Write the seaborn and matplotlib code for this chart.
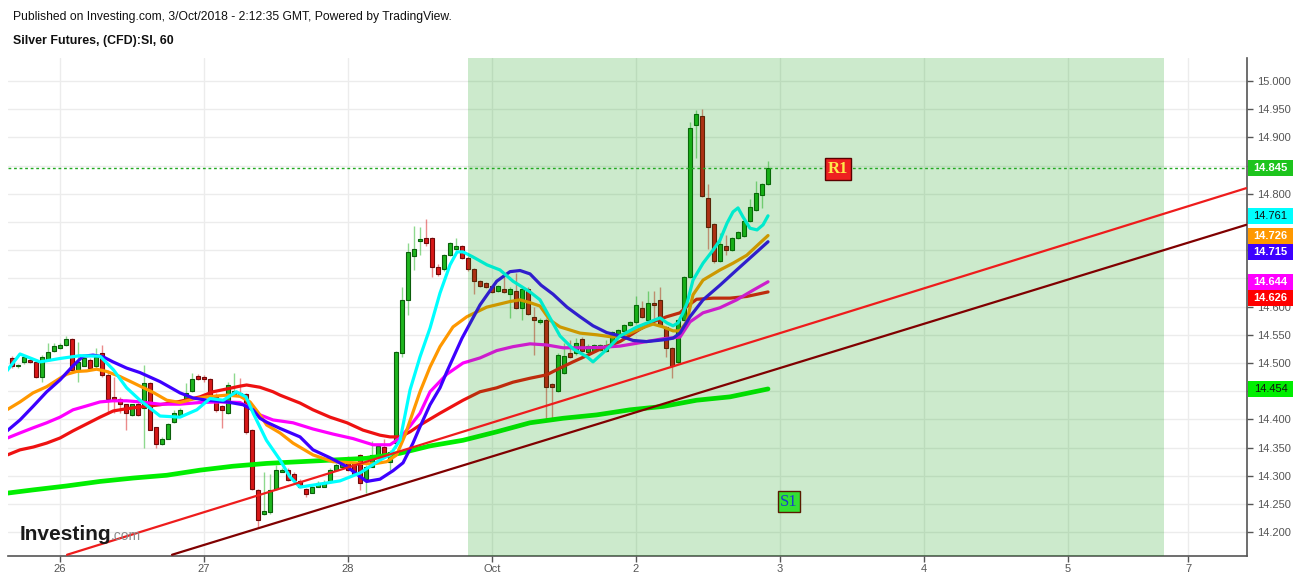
import matplotlib
matplotlib.use("Agg")
import matplotlib.pyplot as plt
import matplotlib.transforms as mtransforms
from matplotlib.patches import Rectangle
import numpy as np
import pandas as pd
import seaborn as sns

# ---------------- data ----------------
first_bar = -8  # hourly bar index, 0 = 26 Sep 00:00, 24 bars per day
opens = [14.508,14.494,14.501,14.506,14.501,14.476,14.506,14.521,14.526,14.532,
         14.542,14.488,14.495,14.506,14.495,14.517,14.479,14.440,14.437,14.427,
         14.408,14.427,14.420,14.465,14.386,14.356,14.366,14.396,14.407,14.434,
         14.451,14.477,14.476,14.472,14.440,14.423,14.411,14.445,14.447,14.445,
         14.381,14.275,14.232,14.236,14.276,14.307,14.311,14.304,14.291,14.277,
         14.270,14.281,14.281,14.290,14.311,14.316,14.322,14.322,14.336,14.294,
         14.316,14.334,14.351,14.325,14.358,14.517,14.612,14.690,14.717,14.721,
         14.721,14.671,14.666,14.691,14.702,14.707,14.687,14.666,14.646,14.641,
         14.636,14.628,14.632,14.622,14.628,14.597,14.632,14.581,14.572,14.577,
         14.463,14.451,14.482,14.517,14.517,14.542,14.520,14.522,14.523,14.522,
         14.530,14.550,14.557,14.567,14.572,14.597,14.577,14.606,14.612,14.563,
         14.526,14.501,14.576,14.652,14.922,14.938,14.792,14.746,14.681,14.707,
         14.701,14.721,14.726,14.752,14.772,14.797,14.817]
highs = [14.512,14.498,14.514,14.508,14.505,14.514,14.536,14.535,14.535,14.548,
         14.544,14.538,14.511,14.508,14.526,14.532,14.488,14.476,14.440,14.428,
         14.428,14.430,14.496,14.467,14.387,14.369,14.393,14.417,14.420,14.464,
         14.482,14.480,14.479,14.473,14.446,14.426,14.467,14.482,14.473,14.447,
         14.383,14.276,14.307,14.304,14.319,14.313,14.313,14.307,14.294,14.278,
         14.282,14.290,14.293,14.313,14.322,14.325,14.335,14.325,14.339,14.319,
         14.361,14.355,14.366,14.346,14.522,14.635,14.712,14.743,14.742,14.756,
         14.724,14.675,14.694,14.714,14.721,14.710,14.690,14.668,14.648,14.643,
         14.638,14.638,14.659,14.634,14.659,14.634,14.634,14.600,14.579,14.579,
         14.465,14.518,14.536,14.541,14.544,14.546,14.533,14.534,14.534,14.540,
         14.557,14.560,14.569,14.574,14.618,14.610,14.628,14.627,14.635,14.565,
         14.528,14.578,14.654,14.927,14.949,14.951,14.817,14.748,14.730,14.727,
         14.723,14.734,14.754,14.790,14.823,14.819,14.858]
lows = [14.492,14.492,14.499,14.500,14.473,14.467,14.504,14.520,14.525,14.531,
        14.486,14.467,14.494,14.491,14.492,14.476,14.411,14.411,14.411,14.381,
        14.406,14.406,14.349,14.381,14.349,14.355,14.365,14.393,14.405,14.431,
        14.449,14.470,14.467,14.441,14.414,14.384,14.410,14.443,14.440,14.375,
        14.275,14.207,14.231,14.233,14.275,14.306,14.290,14.291,14.280,14.263,
        14.269,14.280,14.280,14.288,14.310,14.315,14.309,14.303,14.275,14.269,
        14.315,14.333,14.334,14.310,14.350,14.510,14.585,14.665,14.692,14.708,
        14.653,14.655,14.664,14.689,14.700,14.685,14.664,14.623,14.634,14.633,
        14.624,14.626,14.624,14.579,14.595,14.577,14.585,14.514,14.570,14.399,
        14.399,14.449,14.480,14.509,14.515,14.520,14.518,14.520,14.521,14.520,
        14.528,14.548,14.555,14.565,14.570,14.579,14.575,14.577,14.565,14.511,
        14.473,14.499,14.574,14.650,14.863,14.794,14.703,14.678,14.679,14.692,
        14.699,14.719,14.724,14.750,14.770,14.774,14.815]
closes = [14.494,14.496,14.511,14.501,14.476,14.511,14.520,14.531,14.532,14.542,
          14.488,14.502,14.508,14.492,14.511,14.479,14.437,14.436,14.427,14.411,
          14.427,14.408,14.465,14.382,14.356,14.366,14.391,14.411,14.417,14.446,
          14.472,14.472,14.472,14.443,14.417,14.417,14.461,14.450,14.441,14.377,
          14.276,14.222,14.238,14.275,14.311,14.311,14.293,14.293,14.281,14.268,
          14.281,14.287,14.288,14.310,14.319,14.322,14.310,14.304,14.287,14.316,
          14.337,14.352,14.337,14.343,14.520,14.612,14.697,14.702,14.720,14.712,
          14.671,14.658,14.691,14.712,14.707,14.687,14.666,14.646,14.636,14.635,
          14.626,14.636,14.626,14.632,14.597,14.632,14.587,14.577,14.577,14.457,
          14.457,14.514,14.512,14.511,14.536,14.522,14.530,14.532,14.532,14.532,
          14.555,14.558,14.567,14.572,14.603,14.581,14.606,14.602,14.567,14.526,
          14.495,14.576,14.652,14.916,14.941,14.796,14.742,14.681,14.711,14.701,
          14.721,14.732,14.752,14.776,14.801,14.817,14.846]

# moving averages (bar index, price)
ma_cyan_x = [-9,-6.67,-3.33,0,3.33,6.67,8.9,11.1,13.33,16.67,20,22.8,25,27.2,29.4,31,32.2,34.4,36.67,
             38.33,40,42.5,46.67,50,53.33,55,56.67,58.33,60,61.67,63.33,65,66.17,67.17,68.83,71.17,
             73.33,75.5,78.33,80,81.67,83.33,85.5,87.83,88.83,90.5,92.17,93.33,96.17,98.33,100,101.17,
             102.17,103,103.83,104.5,105.5,107.17,108.83,110,111.17,112.17,113,113.83,115,116.17,117.17,118]
ma_cyan_y = [14.484,14.516,14.502,14.508,14.513,14.512,14.488,14.456,14.434,14.406,14.404,14.417,14.437,
             14.434,14.449,14.440,14.411,14.363,14.328,14.298,14.280,14.284,14.291,14.305,14.328,14.337,
             14.363,14.452,14.511,14.562,14.624,14.674,14.697,14.697,14.688,14.674,14.665,14.645,14.626,
             14.612,14.580,14.548,14.525,14.511,14.502,14.518,14.535,14.548,14.564,14.573,14.580,14.571,
             14.566,14.571,14.589,14.606,14.647,14.677,14.700,14.718,14.748,14.768,14.775,14.759,14.739,
             14.736,14.745,14.761]
ma_orange_x = [-9,-6.67,-4.5,-2.22,0,1.1,2.78,4.45,6.1,7.78,10,12.17,13.33,15.5,17.8,20,22.17,24.45,27.8,
               30,31.67,33.33,34.45,36.67,38.83,42.17,45.5,48.83,52.17,54.45,56.1,57.5,58.67,60,61.67,
               63.33,65.5,67.8,71.1,75,76.67,78.33,80,81.67,83.33,86.67,89.45,92.17,95,97.5,98.83,100.5,
               102.17,103.33,104.45,105.5,107.17,110,112.17,114.45,116.67,118]
ma_orange_y = [14.416,14.431,14.447,14.458,14.473,14.480,14.485,14.486,14.489,14.485,14.476,14.465,14.459,
               14.448,14.434,14.430,14.436,14.440,14.443,14.441,14.431,14.408,14.390,14.376,14.358,14.337,
               14.325,14.323,14.321,14.325,14.337,14.372,14.408,14.449,14.493,14.529,14.564,14.582,14.599,
               14.609,14.612,14.607,14.601,14.576,14.564,14.553,14.550,14.546,14.553,14.564,14.569,14.564,
               14.557,14.557,14.573,14.621,14.647,14.665,14.677,14.691,14.713,14.726]
ma_blue_x = [-9,-6.67,-4.5,-2.22,0,2.17,3.83,5.5,7.17,8.83,11.1,13.33,16.67,20,22.17,24.45,27.8,30.5,32.17,
             33.33,34.45,36.67,40,42.17,45,47.83,51.1,53.33,55.5,57.17,58.83,60,61.67,63.33,64.45,67,70,
             72.78,75,76.67,78.33,80.17,82.17,84.5,86.67,88.83,91.1,93.33,95.5,97.78,100.5,102.17,103.33,
             105,107.17,110,112.78,115.5,118]
ma_blue_y = [14.378,14.399,14.423,14.449,14.470,14.495,14.512,14.514,14.511,14.502,14.491,14.483,14.467,
             14.447,14.438,14.434,14.431,14.426,14.417,14.402,14.395,14.384,14.369,14.346,14.332,14.316,
             14.290,14.294,14.309,14.323,14.358,14.387,14.426,14.456,14.484,14.544,14.603,14.645,14.662,
             14.664,14.658,14.638,14.622,14.599,14.582,14.566,14.554,14.548,14.540,14.538,14.541,14.544,
             14.553,14.582,14.612,14.638,14.665,14.691,14.715]
ma_magenta_x = [-9,-6.67,-4.5,-2.22,0,2.17,4.45,6.67,8.83,11.1,13.33,16.67,20,23.33,26.67,30,31.67,33.33,
                35.5,38.83,42.17,45.5,48.83,52.17,55,56.67,58.33,60,61.67,64.45,67.17,70,72.78,75.5,78.33,
                81.1,83.83,87.78,90.5,93.33,97.78,100.5,103.33,105,107.17,110,112.78,115.5,118]
ma_magenta_y = [14.366,14.376,14.385,14.394,14.404,14.417,14.424,14.431,14.433,14.433,14.431,14.427,14.427,
                14.430,14.431,14.430,14.420,14.408,14.399,14.394,14.383,14.374,14.366,14.355,14.355,14.367,
                14.388,14.411,14.449,14.480,14.500,14.509,14.522,14.529,14.534,14.532,14.527,14.527,14.528,
                14.530,14.538,14.543,14.546,14.573,14.589,14.598,14.612,14.629,14.644]
ma_red_x = [-9,-6.67,-4.45,-2.22,0,2.22,4.45,6.67,8.88,11.1,13.33,16.67,20,23.33,25.5,27.8,30,31.1,33.33,
            35.5,36.67,40,42.17,45,47.83,50.5,53.33,55,56.67,58.33,60,63.33,67.17,70,72.78,75.5,78.33,81.1,
            83.33,85.5,87.78,90.5,93.33,96.67,98.83,101.1,103.33,104.45,106.1,108.83,111.67,114.45,118]
ma_red_y = [14.336,14.346,14.351,14.358,14.367,14.380,14.392,14.404,14.415,14.419,14.422,14.426,14.432,
            14.440,14.449,14.454,14.459,14.461,14.457,14.449,14.443,14.429,14.417,14.404,14.394,14.381,
            14.372,14.369,14.369,14.378,14.390,14.411,14.434,14.449,14.456,14.466,14.473,14.479,14.491,
            14.502,14.513,14.527,14.538,14.560,14.573,14.582,14.589,14.600,14.613,14.615,14.615,14.618,14.626]
ma_green_x = [-9,-4.5,1.1,6.67,12.17,17.8,23.33,28.83,34.45,40,45.5,51.1,56.67,61.67,67.17,72.78,78.33,
              83.83,89.45,95,100.5,106.1,111.67,118]
ma_green_y = [14.269,14.275,14.282,14.290,14.296,14.301,14.310,14.317,14.322,14.325,14.328,14.331,14.340,
              14.353,14.363,14.378,14.394,14.402,14.408,14.417,14.423,14.434,14.440,14.454]

# trend lines (bar index, price)
trend_red_x = [1.17, 197.7]
trend_red_y = [14.160, 14.810]
trend_dark_x = [18.67, 197.7]
trend_dark_y = [14.160, 14.745]

zone_start, zone_end = 68, 184
last_price = 14.845
r1_pos = (129.7, 14.844)
s1_pos = (121.5, 14.254)

tick_pos = [0, 24, 48, 72, 96, 120, 144, 168, 188]
tick_labels = ["26", "27", "28", "Oct", "2", "3", "4", "5", "7"]
ytick_vals = np.round(np.arange(14.20, 15.0001, 0.05), 3)

price_labels = [14.845, 14.761, 14.726, 14.715, 14.644, 14.626, 14.454]
price_label_bg = ["#1dc41d", "#00ffff", "#ff9800", "#3d00ff", "#ff00ff", "#ff0000", "#00ee00"]
price_label_fg = ["white", "#111111", "white", "white", "white", "white", "#111111"]

# ---------------- plot ----------------
sns.set_theme(style="white")
plt.rcParams['font.family'] = ['Liberation Sans', 'DejaVu Sans']

W, H = 1299, 581
fig = plt.figure(figsize=(W / 100, H / 100), dpi=100)
ax = fig.add_axes([8 / W, 25 / H, 1239 / W, 498 / H])
ax.set_facecolor("white")

xlim = (-8.67, 197.83)
ylim = (14.1578, 15.0408)
ax.set_xlim(*xlim)
ax.set_ylim(*ylim)

# grid
for yv in ytick_vals:
    ax.axhline(yv, color="#ececec", lw=1, zorder=0)
for xv in tick_pos:
    ax.axvline(xv, color="#ececec", lw=1, zorder=0)

# candles
df = pd.DataFrame({"k": np.arange(first_bar, first_bar + len(opens)),
                   "o": opens, "h": highs, "l": lows, "c": closes})
up = df["c"] >= df["o"]
for is_up, body, edge in [(True, "#1fb51f", "#0b5e0b"), (False, "#d81818", "#700a0a")]:
    d = df[up == is_up]
    ax.vlines(d["k"], d["l"], d["h"], color=body, alpha=0.5, lw=1, zorder=2)
    hgt = (d["c"] - d["o"]).abs().clip(lower=0.0025)
    bot = np.minimum(d["o"], d["c"])
    ax.bar(d["k"], hgt, bottom=bot, width=0.68, color=body, edgecolor=edge,
           linewidth=0.8, zorder=2.5)

# moving averages
mas = [(ma_green_x, ma_green_y, "#00ee00", 3.4),
       (ma_red_x, ma_red_y, "#ee1111", 2.3),
       (ma_magenta_x, ma_magenta_y, "#ff00ff", 2.3),
       (ma_orange_x, ma_orange_y, "#ff9800", 2.3),
       (ma_blue_x, ma_blue_y, "#3d00ff", 2.3),
       (ma_cyan_x, ma_cyan_y, "#00ffff", 2.3)]
for xs, ys, col, lw in mas:
    sns.lineplot(x=xs, y=ys, color=col, linewidth=lw, ax=ax, estimator=None,
                 sort=False, zorder=3)

# shaded zone (translucent rectangle drawn over the series)
ax.axvspan(zone_start, zone_end, color=(0.0, 0.6, 0.0), alpha=0.2, lw=0, zorder=5)

# trend lines
ax.plot(trend_red_x, trend_red_y, color="#ee1c1c", lw=1.6, zorder=6)
ax.plot(trend_dark_x, trend_dark_y, color="#800000", lw=1.6, zorder=6)

# last price dotted line
ax.axhline(last_price, color="#22aa22", lw=1, ls=(0, (2, 2)), zorder=6)

# R1 / S1 markers
ax.text(r1_pos[0], r1_pos[1], "R1", ha="center", va="center", fontsize=12,
        fontweight="bold", family=["Liberation Serif", "DejaVu Serif"], color="#ffe94a",
        bbox=dict(boxstyle="square,pad=0.18", fc="#ee2020", ec="#5a0000", lw=1), zorder=8)
ax.text(s1_pos[0], s1_pos[1], "S1", ha="center", va="center", fontsize=12,
        family=["Liberation Serif", "DejaVu Serif"], color="#1a3fcc",
        bbox=dict(boxstyle="square,pad=0.15", fc="#33e033", ec="#5a1a00", lw=1), zorder=8)

# axes styling
for s in ["top", "left"]:
    ax.spines[s].set_visible(False)
for s in ["right", "bottom"]:
    ax.spines[s].set_visible(True)
    ax.spines[s].set_color("#555555")
    ax.spines[s].set_linewidth(1.2)

# price labels on the right axis (stacked so they don't overlap)
box_h = 0.0284
placed = []
for val in sorted(price_labels, reverse=True):
    yv = val
    if placed and placed[-1] - yv < box_h:
        yv = placed[-1] - box_h
    placed.append(yv)

# tick labels fully hidden behind a price label are not shown
def covered(v):
    return any(abs(v - p) < box_h * 0.42 for p in placed)

ax.yaxis.tick_right()
ax.set_yticks(ytick_vals)
ax.set_yticklabels(["" if covered(v) else f"{v:.3f}" for v in ytick_vals])
ax.set_xticks(tick_pos)
ax.set_xticklabels(tick_labels)
ax.tick_params(axis="y", which="both", right=True, left=False, length=4, width=1,
               pad=3, labelsize=8, colors="#555555")
ax.tick_params(axis="x", which="both", bottom=True, length=4, width=1, pad=2,
               labelsize=8, colors="#555555")
ax.set_xlabel("")
ax.set_ylabel("")

tr = mtransforms.blended_transform_factory(ax.transAxes, ax.transData)
box_x0, box_w = 1.0008, 0.0363
order = sorted(zip(price_labels, price_label_bg, price_label_fg), key=lambda t: -t[0])
for (val, bg, fg), yv in zip(order, placed):
    ax.add_patch(Rectangle((box_x0, yv - box_h / 2), box_w, box_h, transform=tr,
                           clip_on=False, fc=bg, ec="none", zorder=10))
    ax.text(box_x0 + box_w / 2, yv, f"{val:.3f}", transform=tr, ha="center", va="center",
            fontsize=8, fontweight="bold" if fg == "white" else "normal", color=fg,
            clip_on=False, zorder=11)

# header
fig.text(13 / W, 1 - 17 / H, "Published on Investing.com, 3/Oct/2018 - 2:12:35 GMT, Powered by TradingView.",
         fontsize=8.7, ha="left", va="center", color="#111111")
fig.text(13 / W, 1 - 41 / H, "Silver Futures, (CFD):SI, 60", fontsize=8.9, fontweight="bold",
         ha="left", va="center", color="#111111")

# logo
fig.text(20 / W, 1 - 540 / H, "Investing", fontsize=15, fontweight="bold", ha="left",
         va="baseline", color="#1a1a1a", zorder=20)
fig.text(111 / W, 1 - 540 / H, ".com", fontsize=10, ha="left", va="baseline",
         color="#8a8a8a", zorder=20)

fig.savefig("out.png", dpi=100)
